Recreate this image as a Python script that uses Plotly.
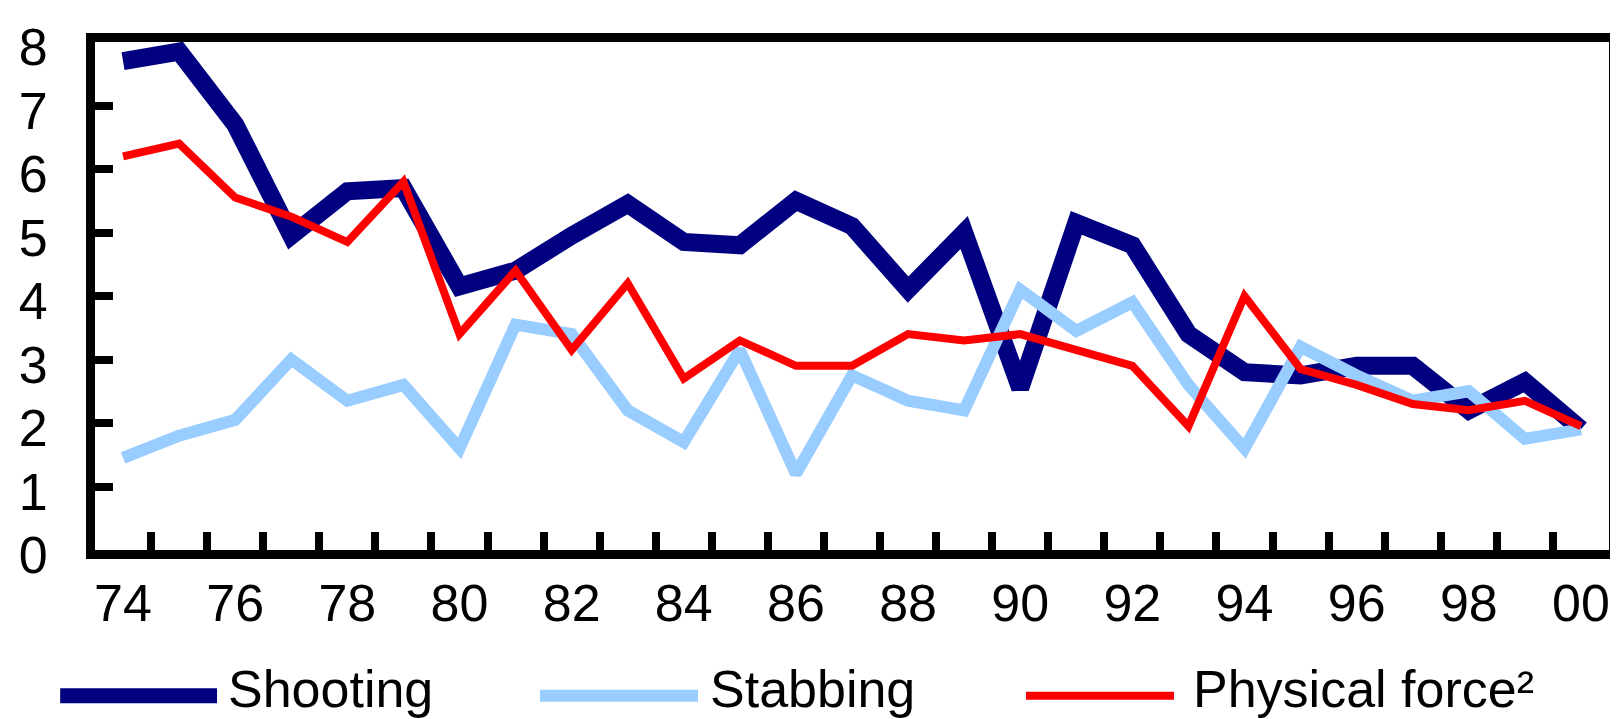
import plotly.graph_objects as go

years = list(range(1974, 2001))
tick_years = list(range(1974, 2001, 2))
tick_labels = ["74", "76", "78", "80", "82", "84", "86", "88", "90", "92", "94", "96", "98", "00"]

shooting = [7.7, 7.85, 6.7, 4.95, 5.65, 5.7, 4.15, 4.4, 4.95, 5.45, 4.85, 4.8, 5.5, 5.1,
            4.1, 5.0, 2.55, 5.15, 4.8, 3.4, 2.8, 2.75, 2.9, 2.9, 2.2, 2.65, 1.9]
stabbing = [1.45, 1.8, 2.05, 3.0, 2.35, 2.6, 1.6, 3.55, 3.4, 2.2, 1.7, 3.15, 1.2, 2.75,
            2.35, 2.2, 4.1, 3.45, 3.9, 2.6, 1.6, 3.2, 2.75, 2.35, 2.5, 1.75, 1.9]
physical = [6.2, 6.4, 5.55, 5.25, 4.85, 5.8, 3.4, 4.4, 3.15, 4.2, 2.7, 3.3, 2.9, 2.9,
            3.4, 3.3, 3.4, 3.15, 2.9, 1.95, 4.0, 2.85, 2.6, 2.3, 2.2, 2.35, 1.95]

series_names = ["Shooting", "Stabbing", "Physical force\u00b2"]
series_values = [shooting, stabbing, physical]
series_colors = ["#000080", "#99CCFF", "#FF0000"]
series_widths = [18, 12, 8]

FONT = "Liberation Sans, Arial, sans-serif"

fig = go.Figure()
for name, vals, col, w in zip(series_names, series_values, series_colors, series_widths):
    fig.add_trace(go.Scatter(x=years, y=vals, mode="lines", name=name,
                             line=dict(color=col, width=w), showlegend=False))

# custom legend (long line samples like the original)
legend_layout = [(-0.023, 0.0806, 0.0865), (0.2939, 0.3983, 0.4049), (0.6149, 0.7127, 0.7239)]
legend_widths = [15, 12, 8]
leg_line_y = -0.287
leg_text_y = -0.274
for (x0, x1, xt), name, col, w in zip(legend_layout, series_names, series_colors, legend_widths):
    fig.add_shape(type="line", xref="paper", yref="paper", x0=x0, x1=x1,
                  y0=leg_line_y, y1=leg_line_y, line=dict(color=col, width=w))
    fig.add_annotation(xref="paper", yref="paper", x=xt, y=leg_text_y, text=name, showarrow=False,
                       xanchor="left", yanchor="middle", font=dict(family=FONT, size=52, color="black"))

fig.update_layout(
    width=1618, height=719,
    margin=dict(l=87, r=17, t=34, b=177),
    paper_bgcolor="white", plot_bgcolor="white",
    font=dict(family=FONT, size=52, color="black"),
)
fig.update_xaxes(
    range=[1973.5, 2000.5], tickmode="array", tickvals=tick_years, ticktext=tick_labels,
    ticks="", showgrid=False, zeroline=False, automargin=False,
    showline=True, linewidth=9, linecolor="black", mirror=True,
    ticklabelstandoff=0,
    minor=dict(tickmode="array", tickvals=[y + 0.5 for y in years[:-1]],
               ticks="inside", ticklen=18, tickwidth=8, tickcolor="black", showgrid=False),
)
fig.update_yaxes(
    range=[0, 8], tickmode="array", tickvals=list(range(0, 9)),
    ticks="inside", ticklen=18, tickwidth=8, tickcolor="black",
    showgrid=False, zeroline=False, automargin=False,
    showline=True, linewidth=9, linecolor="black", mirror=True,
    ticklabelstandoff=28, ticklabelshift=5,
)

fig.write_html("out.html")
